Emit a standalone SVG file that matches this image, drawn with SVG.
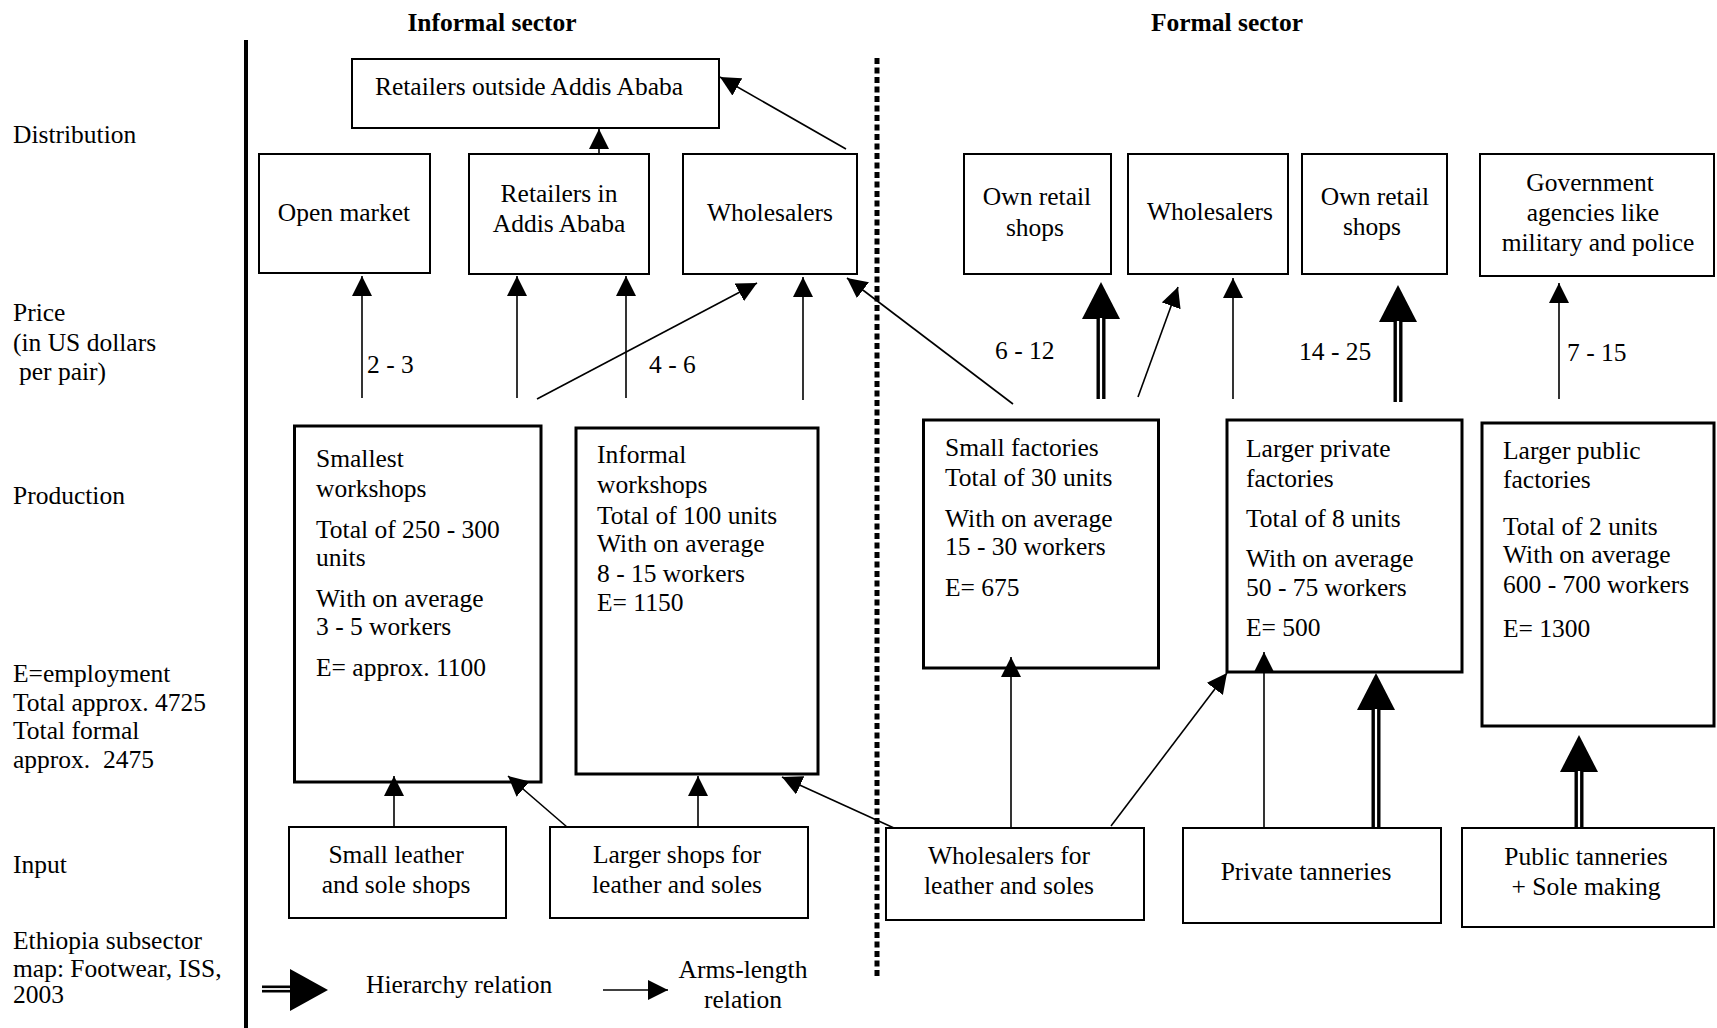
<svg xmlns="http://www.w3.org/2000/svg" width="1717" height="1028" viewBox="0 0 1717 1028">
<style>
text{font-family:"Liberation Serif","Times New Roman",serif;font-size:25.5px;fill:#000}
.h{font-weight:bold}
.c{text-anchor:middle}
.box{fill:#fff;stroke:#000;stroke-width:2}
.pbox{fill:#fff;stroke:#000;stroke-width:3}
.arm{stroke:#000;stroke-width:1.6;fill:none;marker-end:url(#ah)}
.hs{stroke:#000;stroke-width:9;fill:none;marker-end:url(#hh)}
.hw{stroke:#fff;stroke-width:2.2;fill:none}
</style>
<defs>
<marker id="ah" markerUnits="userSpaceOnUse" viewBox="0 0 20 20" refX="20" refY="10" markerWidth="20" markerHeight="20" orient="auto"><path d="M0,0 L20,10 L0,20 Z" fill="#000"/></marker>
<marker id="hh" markerUnits="userSpaceOnUse" viewBox="0 0 37 38" refX="0" refY="19" markerWidth="37" markerHeight="38" orient="auto"><path d="M0,0 L37,19 L0,38 Z" fill="#000"/></marker>
</defs>
<rect width="1717" height="1028" fill="#fff"/>

<g id="frame">
<line x1="246" y1="40" x2="246" y2="1028" stroke="#000" stroke-width="4"/>
<line x1="877" y1="58" x2="877" y2="977" stroke="#000" stroke-width="5" stroke-dasharray="6 3.5"/>
<text class="h c" x="492" y="31">Informal sector</text>
<text class="h c" x="1227" y="31">Formal sector</text>
</g>

<g id="row-labels">
<text x="13" y="143">Distribution</text>
<text x="13" y="321">Price</text>
<text x="13" y="351">(in US dollars</text>
<text x="19" y="380">per pair)</text>
<text x="13" y="504">Production</text>
<text x="13" y="682">E=employment</text>
<text x="13" y="711">Total approx. 4725</text>
<text x="13" y="739">Total formal</text>
<text x="13" y="768" xml:space="preserve">approx.  2475</text>
<text x="13" y="873">Input</text>
<text x="13" y="949">Ethiopia subsector</text>
<text x="13" y="977">map: Footwear, ISS,</text>
<text x="13" y="1003">2003</text>
</g>

<g id="n-retailers-outside"><rect class="box" x="352" y="59" width="367" height="69"/><text class="c" x="529" y="95">Retailers outside Addis Ababa</text></g>
<g id="n-open-market"><rect class="box" x="259" y="154" width="171" height="119"/><text class="c" x="344" y="221">Open market</text></g>
<g id="n-retailers-in"><rect class="box" x="469" y="154" width="180" height="120"/><text class="c" x="559" y="202">Retailers in</text><text class="c" x="559" y="232">Addis Ababa</text></g>
<g id="n-wholesalers-inf"><rect class="box" x="683" y="154" width="174" height="120"/><text class="c" x="770" y="221">Wholesalers</text></g>
<g id="n-own-retail-1"><rect class="box" x="964" y="154" width="147" height="120"/><text class="c" x="1037" y="205">Own retail</text><text class="c" x="1035" y="236">shops</text></g>
<g id="n-wholesalers-f"><rect class="box" x="1128" y="154" width="160" height="120"/><text class="c" x="1210" y="220">Wholesalers</text></g>
<g id="n-own-retail-2"><rect class="box" x="1302" y="154" width="145" height="120"/><text class="c" x="1375" y="205">Own retail</text><text class="c" x="1372" y="235">shops</text></g>
<g id="n-government"><rect class="box" x="1480" y="154" width="234" height="122"/><text class="c" x="1590" y="191">Government</text><text class="c" x="1593" y="221">agencies like</text><text class="c" x="1598" y="251">military and police</text></g>

<g id="prices">
<text x="367" y="373">2 - 3</text>
<text x="649" y="373">4 - 6</text>
<text x="995" y="359">6 - 12</text>
<text x="1299" y="360">14 - 25</text>
<text x="1567" y="361">7 - 15</text>
</g>

<g id="n-smallest"><rect class="pbox" x="294.5" y="426" width="246.5" height="356"/>
<text x="316" y="467">Smallest</text><text x="316" y="497">workshops</text><text x="316" y="538">Total of 250 - 300</text><text x="316" y="566">units</text><text x="316" y="607">With on average</text><text x="316" y="635">3 - 5 workers</text><text x="316" y="676">E= approx. 1100</text></g>
<g id="n-informal"><rect class="pbox" x="576" y="428" width="242" height="346" stroke-width="3.5"/>
<text x="597" y="463">Informal</text><text x="597" y="493">workshops</text><text x="597" y="524">Total of 100 units</text><text x="597" y="552">With on average</text><text x="597" y="582">8 - 15 workers</text><text x="597" y="611">E= 1150</text></g>
<g id="n-small-factories"><rect class="pbox" x="923.5" y="420" width="235" height="248"/>
<text x="945" y="456">Small factories</text><text x="945" y="486">Total of 30 units</text><text x="945" y="527">With on average</text><text x="945" y="555">15 - 30 workers</text><text x="945" y="596">E= 675</text></g>
<g id="n-larger-private"><rect class="pbox" x="1227" y="420" width="235" height="252"/>
<text x="1246" y="457">Larger private</text><text x="1246" y="487">factories</text><text x="1246" y="527">Total of 8 units</text><text x="1246" y="567">With on average</text><text x="1246" y="596">50 - 75 workers</text><text x="1246" y="636">E= 500</text></g>
<g id="n-larger-public"><rect class="pbox" x="1482" y="423" width="232" height="303"/>
<text x="1503" y="459">Larger public</text><text x="1503" y="488">factories</text><text x="1503" y="535">Total of 2 units</text><text x="1503" y="563">With on average</text><text x="1503" y="593">600 - 700 workers</text><text x="1503" y="637">E= 1300</text></g>

<g id="n-small-leather"><rect class="box" x="289" y="827" width="217" height="91"/><text class="c" x="396" y="863">Small leather</text><text class="c" x="396" y="893">and sole shops</text></g>
<g id="n-larger-shops"><rect class="box" x="550" y="827" width="258" height="91"/><text class="c" x="677" y="863">Larger shops for</text><text class="c" x="677" y="893">leather and soles</text></g>
<g id="n-wholesalers-leather"><rect class="box" x="886" y="828" width="258" height="92"/><text class="c" x="1009" y="864">Wholesalers for</text><text class="c" x="1009" y="894">leather and soles</text></g>
<g id="n-private-tanneries"><rect class="box" x="1183" y="828" width="258" height="95"/><text class="c" x="1306" y="880">Private tanneries</text></g>
<g id="n-public-tanneries"><rect class="box" x="1462" y="828" width="252" height="99"/><text class="c" x="1586" y="865">Public tanneries</text><text class="c" x="1586" y="895">+ Sole making</text></g>

<g id="connectors">
<line class="arm" x1="599" y1="154" x2="599" y2="129"/>
<line class="arm" x1="846" y1="149" x2="720" y2="77"/>
<line class="arm" x1="362" y1="398" x2="362" y2="276"/>
<line class="arm" x1="517" y1="398" x2="517" y2="276"/>
<line class="arm" x1="626" y1="398" x2="626" y2="276"/>
<line class="arm" x1="537" y1="399" x2="757" y2="283"/>
<line class="arm" x1="803" y1="400" x2="803" y2="277"/>
<line class="arm" x1="1013" y1="404" x2="847" y2="278"/>
<line class="arm" x1="1138" y1="397" x2="1178" y2="287"/>
<line class="arm" x1="1233" y1="399" x2="1233" y2="278"/>
<line class="arm" x1="1559" y1="399" x2="1559" y2="283"/>
<line class="arm" x1="394" y1="827" x2="394" y2="776"/>
<line class="arm" x1="567" y1="827" x2="508" y2="776"/>
<line class="arm" x1="698" y1="826" x2="698" y2="776"/>
<line class="arm" x1="894" y1="828" x2="782" y2="777"/>
<line class="arm" x1="1011" y1="827" x2="1011" y2="657"/>
<line class="arm" x1="1111" y1="826" x2="1227" y2="673"/>
<line class="arm" x1="1264" y1="827" x2="1264" y2="652"/>

<line class="hs" x1="1101" y1="399" x2="1101" y2="319"/>
<line class="hw" x1="1101" y1="399" x2="1101" y2="318"/>
<line class="hs" x1="1398" y1="402" x2="1398" y2="322"/>
<line class="hw" x1="1398" y1="402" x2="1398" y2="321"/>
<line class="hs" x1="1376" y1="827" x2="1376" y2="710"/>
<line class="hw" x1="1376" y1="827" x2="1376" y2="709"/>
<line class="hs" x1="1579" y1="827" x2="1579" y2="772"/>
<line class="hw" x1="1579" y1="827" x2="1579" y2="771"/>
</g>

<g id="legend">
<line x1="262" y1="989" x2="291" y2="989" stroke="#000" stroke-width="7"/>
<line x1="262" y1="989" x2="291" y2="989" stroke="#fff" stroke-width="1.8"/>
<path d="M290,969 L328,990 L290,1011 Z" fill="#000"/>
<text x="366" y="993">Hierarchy relation</text>
<line class="arm" x1="603" y1="990" x2="668" y2="990"/>
<text class="c" x="743" y="978">Arms-length</text>
<text class="c" x="743" y="1008">relation</text>
</g>
</svg>
